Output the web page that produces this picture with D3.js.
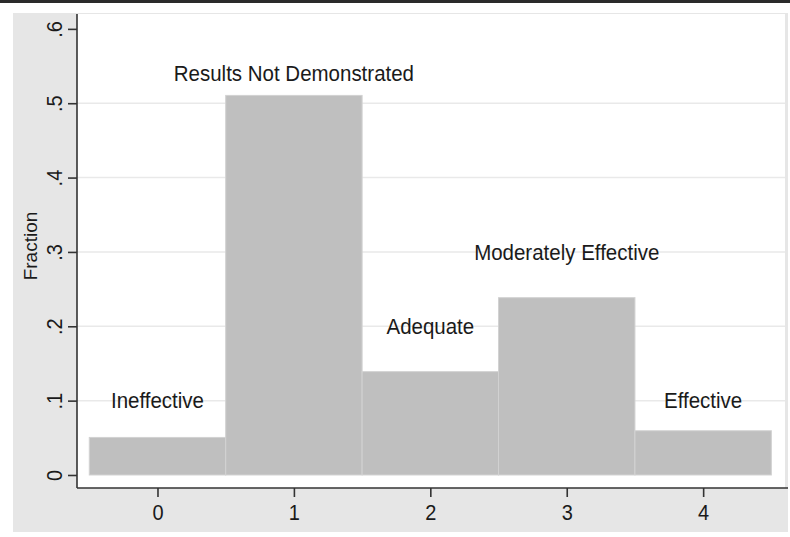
<!DOCTYPE html>
<html>
<head>
<meta charset="utf-8">
<script src="https://cdn.jsdelivr.net/npm/d3@7"></script>
<style>
  html, body { margin: 0; padding: 0; background: #fff; }
  svg { display: block; font-family: "Liberation Sans", Arial, sans-serif; }
</style>
</head>
<body>
<div id="chart"></div>
<script>
// histogram of program ratings, fraction per category
var categories = [0, 1, 2, 3, 4];
var fractions = [0.0505, 0.5105, 0.139, 0.2385, 0.0595];
var yTicks = [0, 0.1, 0.2, 0.3, 0.4, 0.5, 0.6];
var yTickLabels = ["0", ".1", ".2", ".3", ".4", ".5", ".6"];
var gridTicks = [0.1, 0.2, 0.3, 0.4, 0.5];
var labelText = ["Ineffective", "Results Not Demonstrated", "Adequate", "Moderately Effective", "Effective"];
var labelX = [0, 1, 2, 3, 4];
var labelY = [0.1, 0.54, 0.2, 0.3, 0.1];

var width = 790, height = 537;
var plot = {left: 77, right: 785, top: 14, bottom: 488};
var stretch = 1.1; // the scanned text is a little taller than wide

var svg = d3.select("#chart").append("svg")
    .attr("width", width)
    .attr("height", height);

// outer frame: black rule on top, gray graph region
svg.append("rect").attr("x", 0).attr("y", 0).attr("width", width).attr("height", 3).attr("fill", "#2a2a2a");
svg.append("rect").attr("x", 13).attr("y", 13).attr("width", 775).attr("height", 519).attr("fill", "#e6e6e6");
svg.append("rect")
    .attr("x", plot.left).attr("y", plot.top)
    .attr("width", plot.right - plot.left).attr("height", plot.bottom - plot.top)
    .attr("fill", "#fff");

var x = d3.scaleLinear().domain([-0.59, 4.6]).range([plot.left, plot.right]);
var y = d3.scaleLinear().domain([-0.0175, 0.62]).range([plot.bottom, plot.top]);

// gridlines
svg.append("g").selectAll("line")
    .data(gridTicks)
  .enter().append("line")
    .attr("x1", plot.left).attr("x2", plot.right)
    .attr("y1", d => y(d)).attr("y2", d => y(d))
    .attr("stroke", "#e9e9e9")
    .attr("stroke-width", 1.5);

// bars
svg.append("g").selectAll("rect")
    .data(categories)
  .enter().append("rect")
    .attr("x", d => x(d - 0.5))
    .attr("width", d => x(d + 0.5) - x(d - 0.5))
    .attr("y", (d, i) => y(fractions[i]))
    .attr("height", (d, i) => y(0) - y(fractions[i]))
    .attr("fill", "#bfbfbf")
    .attr("stroke", "#d2d2d2")
    .attr("stroke-width", 1);

// y axis
var yAxis = d3.axisLeft(y)
    .tickValues(yTicks)
    .tickFormat((d, i) => yTickLabels[i])
    .tickSize(9)
    .tickPadding(6);
var gy = svg.append("g")
    .attr("transform", "translate(" + plot.left + ",0)")
    .call(yAxis);
gy.select(".domain").attr("d", "M0," + plot.top + "V" + plot.bottom);
gy.selectAll(".tick text")
    .attr("x", 0)
    .attr("y", 0)
    .attr("dy", 0)
    .attr("transform", "translate(-15,0) rotate(-90) scale(1," + stretch + ")")
    .attr("text-anchor", "middle");

// x axis
var xAxis = d3.axisBottom(x)
    .tickValues(categories)
    .tickFormat(d3.format("d"))
    .tickSize(9)
    .tickPadding(7);
var gx = svg.append("g")
    .attr("transform", "translate(0," + plot.bottom + ")")
    .call(xAxis);
gx.select(".domain").attr("d", "M" + plot.left + ",0H788");
gx.selectAll(".tick text")
    .attr("y", 0)
    .attr("dy", 0)
    .attr("transform", "translate(0,32) scale(1," + stretch + ")");

svg.selectAll(".domain").attr("stroke", "#333").attr("stroke-width", 1.6);
svg.selectAll(".tick line").attr("stroke", "#333").attr("stroke-width", 1.6);
svg.selectAll(".tick text")
    .attr("fill", "#1a1a1a")
    .style("font-size", "20px")
    .style("font-family", "Liberation Sans, Arial, sans-serif");

// axis title
svg.append("text")
    .attr("transform", "translate(37,246) rotate(-90)")
    .attr("text-anchor", "middle")
    .attr("fill", "#1a1a1a")
    .style("font-size", "19px")
    .text("Fraction");

// category labels placed in data coordinates
svg.append("g").selectAll("text")
    .data(labelText)
  .enter().append("text")
    .attr("transform", (d, i) => "translate(" + x(labelX[i]) + "," + (y(labelY[i]) + 7.8) + ") scale(1," + stretch + ")")
    .attr("text-anchor", "middle")
    .attr("fill", "#1a1a1a")
    .style("font-size", "20.5px")
    .text(d => d);
</script>
</body>
</html>
